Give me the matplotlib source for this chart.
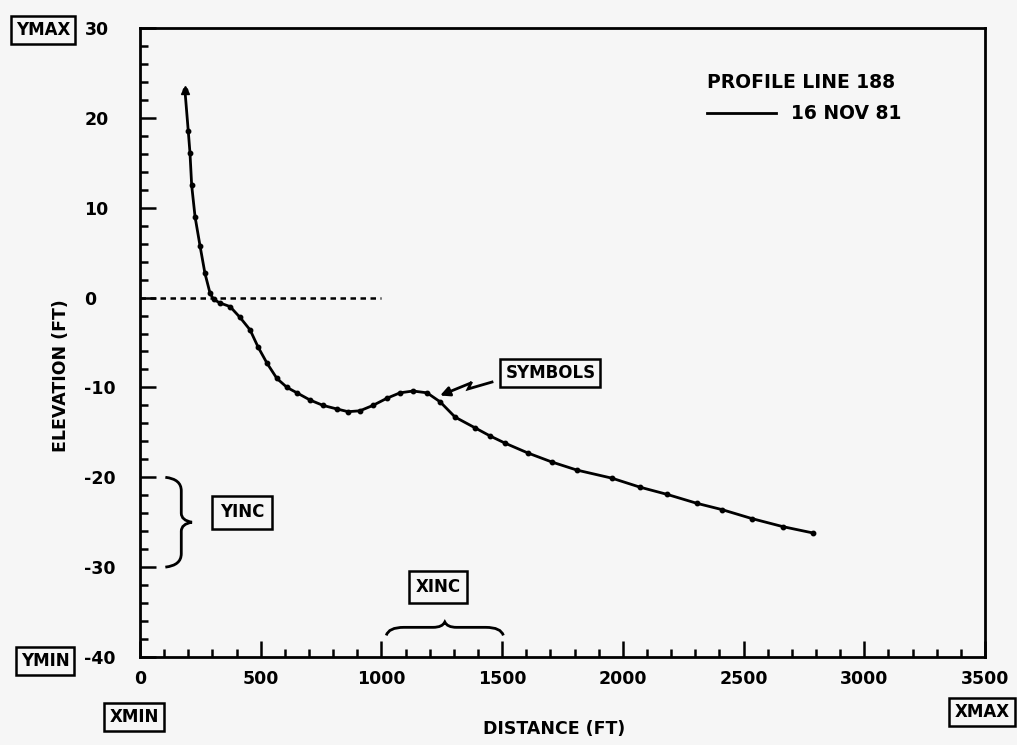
import numpy as np
import matplotlib.pyplot as plt
from matplotlib.lines import Line2D
from matplotlib.path import Path
from matplotlib.patches import PathPatch
from matplotlib.ticker import MultipleLocator

# profile line 188, survey of 16 Nov 81
distance = [186, 200, 207, 214, 228, 249, 269, 290, 305, 331,
            373, 414, 456, 489, 526, 567, 609, 650, 704, 758,
            816, 862, 911, 965, 1023, 1077, 1131, 1189, 1243, 1305,
            1388, 1450, 1512, 1607, 1706, 1810, 1955, 2071, 2183, 2307,
            2411, 2535, 2664, 2788]
elevation = [23.1, 18.5, 16.1, 12.5, 9.0, 5.7, 2.7, 0.5, -0.2, -0.6,
             -1.0, -2.2, -3.6, -5.5, -7.3, -9.0, -10.0, -10.6, -11.4, -12.0,
             -12.4, -12.7, -12.6, -12.0, -11.2, -10.6, -10.4, -10.6, -11.6, -13.3,
             -14.5, -15.4, -16.2, -17.3, -18.3, -19.2, -20.1, -21.1, -21.9, -22.9,
             -23.6, -24.6, -25.5, -26.2]

xmin, xmax, xinc = 0, 3500, 500
ymin, ymax, yinc = -40, 30, 10
datum_x = [0, 1000]
datum_y = [0, 0]

W, H = 1017, 745
bg = '#f6f6f6'

plt.rcParams['font.family'] = 'DejaVu Sans'
plt.rcParams['font.weight'] = 'bold'
plt.rcParams['axes.labelweight'] = 'bold'
plt.rcParams['axes.unicode_minus'] = False

fig = plt.figure(figsize=(W / 100, H / 100), dpi=100, facecolor=bg)
ax = fig.add_axes([140 / W, 88 / H, 845 / W, 629 / H], facecolor=bg)

ax.plot(datum_x, datum_y, color='k', lw=1.8, linestyle=(0, (2.2, 1.8)))
ax.plot(distance, elevation, color='k', lw=2, marker='o', markersize=3.2)
ax.plot(distance[:1], elevation[:1], color='k', marker='^', markersize=6, linestyle='none')

ax.set_xlim(xmin, xmax)
ax.set_ylim(ymin, ymax)
ax.xaxis.set_major_locator(MultipleLocator(xinc))
ax.xaxis.set_minor_locator(MultipleLocator(100))
ax.yaxis.set_major_locator(MultipleLocator(yinc))
ax.yaxis.set_minor_locator(MultipleLocator(2))
for s in ax.spines.values():
    s.set_linewidth(2)
ax.tick_params(which='both', direction='in', width=1.8, labelsize=12.5)
ax.tick_params(which='major', length=11.5)
ax.tick_params(which='minor', length=5.8)
ax.tick_params(axis='x', pad=9)
ax.tick_params(axis='y', pad=40)
plt.setp(ax.get_yticklabels(), ha='left')

ax.set_xlabel('DISTANCE (FT)', fontsize=12.5)
ax.set_ylabel('ELEVATION (FT)', fontsize=12.5)
ax.xaxis.set_label_coords(0.49, -0.1)
ax.yaxis.set_label_coords(-0.083, 0.447)

leg = ax.legend([Line2D([], [], color='k', lw=2)], ['16 NOV 81'],
                title='PROFILE LINE 188', loc='upper left',
                bbox_to_anchor=(0.671, 0.928), frameon=False, alignment='left',
                handlelength=3.7, handletextpad=0.8, borderpad=0, borderaxespad=0,
                labelspacing=0.65,
                prop=dict(weight='bold', size=13.5),
                title_fontproperties=dict(weight='bold', size=13.5))

box = dict(boxstyle='square,pad=0.3', fc='none', ec='k', lw=1.8)


def fig_box(text, x, y):
    fig.text(x / W, 1 - y / H, text, ha='center', va='center', fontsize=12, bbox=box)


fig_box('YMAX', 43, 30)
fig_box('YMIN', 45, 661)
fig_box('XMIN', 134, 717)
fig_box('XMAX', 982, 712)

ax.text(423, -23.9, 'YINC', ha='center', va='center', fontsize=12,
        bbox=dict(box, boxstyle='square,pad=0.45'))
ax.text(1234, -32.2, 'XINC', ha='center', va='center', fontsize=12,
        bbox=dict(box, boxstyle='square,pad=0.4'))
ax.text(1700, -8.4, 'SYMBOLS', ha='center', va='center', fontsize=12, bbox=box)


def brace(start, end, base, tip, vertical):
    u = np.array([0, 0.02, 0.15, 0.4, 0.48, 0.5, 0.52, 0.6, 0.85, 0.98, 1])
    v = np.array([0, 0.6, 0.6, 0.6, 0.6, 1.0, 0.6, 0.6, 0.6, 0.6, 0])
    along = start + u * (end - start)
    across = base + v * (tip - base)
    pts = np.column_stack([across, along]) if vertical else np.column_stack([along, across])
    codes = [Path.MOVETO, Path.CURVE3, Path.CURVE3, Path.LINETO, Path.CURVE3, Path.CURVE3,
             Path.CURVE3, Path.CURVE3, Path.LINETO, Path.CURVE3, Path.CURVE3]
    ax.add_patch(PathPatch(Path(pts, codes), fc='none', ec='k', lw=2))


brace(-20, -30, 105, 215, vertical=True)
brace(1020, 1505, -37.6, -36.1, vertical=False)

# zigzag pointer from SYMBOLS box to the curve
zig_x = [1458, 1359, 1371]
zig_y = [-9.4, -10.17, -9.5]
ax.plot(zig_x, zig_y, color='k', lw=2, solid_joinstyle='miter')
ax.annotate('', xy=(1243, -10.9), xytext=(zig_x[-1], zig_y[-1]),
            arrowprops=dict(arrowstyle='-|>', color='k', lw=2, mutation_scale=14,
                            shrinkA=0, shrinkB=0))

fig.savefig('out.png', dpi=100, facecolor=bg)
